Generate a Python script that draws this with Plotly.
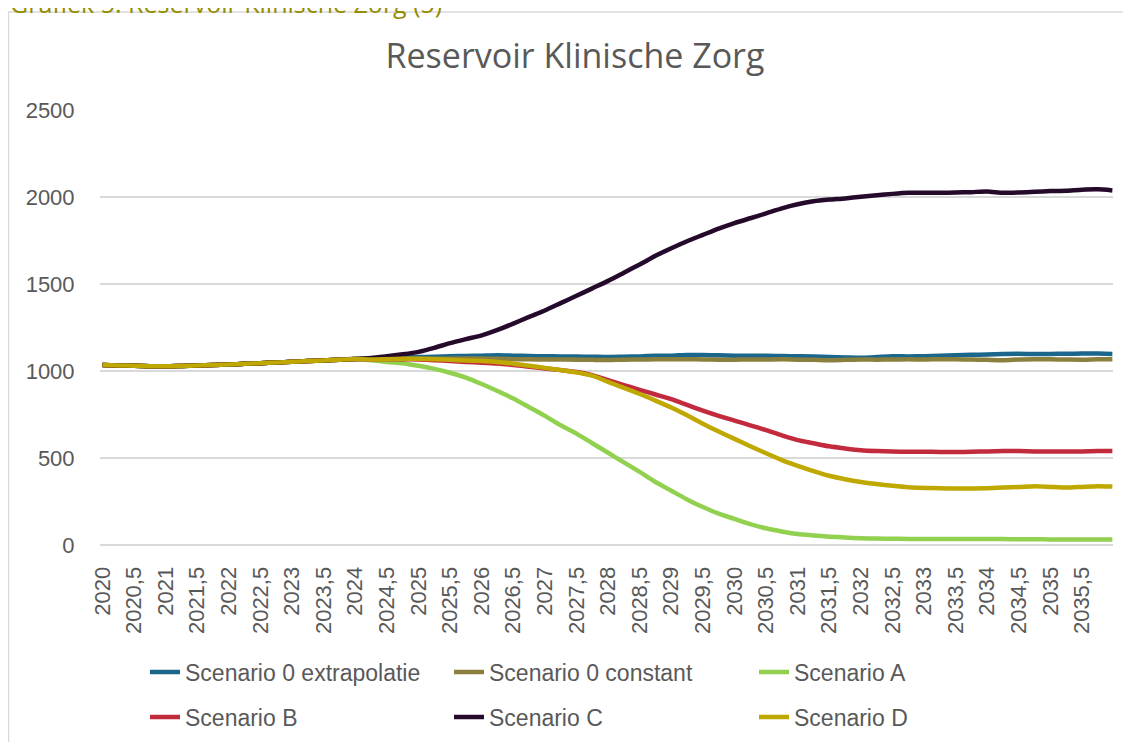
import plotly.graph_objects as go

# Quarterly readings (last point = end of series).
years = [2020 + 0.25 * i for i in range(64)] + [2035.98]

early = [1035, 1032, 1030, 1028, 1027, 1029, 1031, 1034, 1038, 1041,
         1045, 1049, 1053, 1057, 1061, 1065, 1069]

scen0_extrap = early + [
    1072, 1075, 1078, 1080, 1082, 1085, 1086, 1088, 1090, 1088,
    1086, 1085, 1084, 1083, 1082, 1080, 1082, 1084, 1087, 1088,
    1092, 1092, 1090, 1088, 1087, 1088, 1086, 1085, 1084, 1080,
    1078, 1076, 1080, 1085, 1084, 1085, 1087, 1090, 1093, 1095,
    1098, 1099, 1097, 1098, 1099, 1100, 1100, 1098]

scen0_const = early + [
    1068, 1068, 1070, 1070, 1070, 1071, 1072, 1072, 1070, 1068,
    1067, 1066, 1066, 1065, 1064, 1063, 1065, 1066, 1067, 1068,
    1068, 1066, 1065, 1065, 1066, 1066, 1067, 1065, 1064, 1062,
    1064, 1066, 1065, 1066, 1067, 1066, 1068, 1067, 1066, 1064,
    1062, 1066, 1068, 1067, 1066, 1065, 1067, 1068]

scen_a = early + [
    1062, 1052, 1045, 1030, 1012, 990, 962, 925, 885, 842,
    792, 742, 688, 640, 585, 530, 475, 420, 362, 312,
    262, 218, 180, 150, 120, 96, 78, 63, 55, 48,
    43, 39, 37, 36, 35, 35, 35, 34, 34, 34,
    34, 33, 33, 32, 32, 32, 32, 32]

scen_b = early + [
    1066, 1068, 1068, 1066, 1062, 1058, 1052, 1048, 1043, 1035,
    1025, 1015, 1005, 994, 976, 947, 919, 892, 865, 838,
    805, 772, 742, 715, 688, 660, 630, 603, 585, 567,
    555, 545, 540, 537, 536, 536, 535, 534, 536, 538,
    540, 540, 538, 537, 538, 538, 540, 540]

scen_c = early + [
    1075, 1085, 1096, 1110, 1133, 1160, 1183, 1205, 1236, 1272,
    1311, 1348, 1390, 1432, 1475, 1518, 1565, 1612, 1662, 1705,
    1746, 1782, 1818, 1850, 1878, 1906, 1935, 1958, 1975, 1985,
    1992, 2002, 2010, 2018, 2024, 2025, 2024, 2026, 2028, 2032,
    2024, 2026, 2030, 2034, 2036, 2042, 2044, 2038]

scen_d = early + [
    1066, 1068, 1070, 1070, 1068, 1064, 1060, 1057, 1052, 1042,
    1030, 1018, 1006, 992, 973, 937, 903, 868, 830, 790,
    745, 697, 652, 610, 568, 527, 488, 455, 425, 398,
    378, 362, 350, 340, 332, 328, 326, 324, 325, 326,
    330, 333, 338, 334, 330, 334, 338, 336]

series = [
    ("Scenario 0 extrapolatie", scen0_extrap, "#1b678b"),
    ("Scenario 0 constant", scen0_const, "#8b7f3e"),
    ("Scenario A", scen_a, "#92d050"),
    ("Scenario B", scen_b, "#c22a3e"),
    ("Scenario C", scen_c, "#250a2b"),
    ("Scenario D", scen_d, "#bfa800"),
]

tick_vals = [2020 + 0.5 * i for i in range(32)]
tick_text = [f"{v:g}".replace(".", ",") for v in tick_vals]

GREY = "#595959"
# page body has an 8px margin, so the figure is laid out 8px short
W, H = 1123, 734
L, R, T, B = 92, 18, 102, 197

# legend slots: (text x, row centre y) in figure pixels
legend_pos = [(178, 664), (482, 664), (787, 664),
              (178, 709), (482, 709), (787, 709)]

fig = go.Figure()
for i, (name, vals, color) in enumerate(series):
    assert len(vals) == len(years), name
    fig.add_trace(go.Scatter(x=years, y=vals, name=name, mode="lines",
                             line=dict(color=color, width=4.5, shape="spline",
                                       smoothing=0.6),
                             legend="legend" if i == 0 else f"legend{i + 1}"))


def px_y(py):
    return (H - B - py) / (H - T - B)


def px_x(px):
    return (px - L) / (W - L - R)


legends = {}
for i, (tx, ty) in enumerate(legend_pos):
    key = "legend" if i == 0 else f"legend{i + 1}"
    legends[key] = dict(orientation="h", xref="container", yref="container",
                        x=(tx - 41) / W, y=1 - ty / H,
                        xanchor="left", yanchor="middle",
                        bgcolor="rgba(0,0,0,0)", itemclick=False,
                        font=dict(family="Liberation Sans, Arial", size=23,
                                  color=GREY))

fig.update_layout(
    width=W, height=H,
    margin=dict(l=L, r=R, t=T, b=B),
    paper_bgcolor="white", plot_bgcolor="white",
    showlegend=True,
    title=dict(text="Reservoir Klinische Zorg", x=567 / W, xanchor="center",
               xref="container", yref="container", y=1 - 48 / H,
               yanchor="middle",
               font=dict(family="Open Sans, Liberation Sans", size=34,
                         color=GREY)),
    xaxis=dict(range=[2019.96, 2035.99], tickmode="array",
               tickvals=tick_vals, ticktext=tick_text, tickangle=-90,
               showgrid=False, zeroline=False, showline=False,
               ticks="outside", ticklen=12, tickcolor="rgba(0,0,0,0)",
               tickfont=dict(family="Liberation Sans, Arial", size=22,
                             color=GREY)),
    yaxis=dict(range=[0, 2500], tickvals=[0, 500, 1000, 1500, 2000, 2500],
               showgrid=True, gridcolor="#d9d9d9", gridwidth=1.5,
               zeroline=True, zerolinecolor="#d9d9d9", zerolinewidth=2,
               showline=False, ticks="outside", ticklen=20,
               tickcolor="rgba(0,0,0,0)",
               tickfont=dict(family="Liberation Sans, Arial", size=22,
                             color=GREY)),
    shapes=[dict(type="rect", xref="paper", yref="paper",
                 x0=px_x(0.5), x1=px_x(1140), y0=px_y(760), y1=px_y(4),
                 line=dict(color="#d9d9d9", width=1.5),
                 fillcolor="rgba(0,0,0,0)", layer="below")],
    annotations=[dict(text="Grafiek 5: Reservoir Klinische Zorg (5)",
                      xref="paper", yref="paper", x=px_x(0), y=px_y(-24),
                      xanchor="left", yanchor="top", showarrow=False,
                      font=dict(family="Open Sans, Liberation Sans",
                                size=25, color="#948c00"))],
    **legends,
)

fig.write_html("out.html")
